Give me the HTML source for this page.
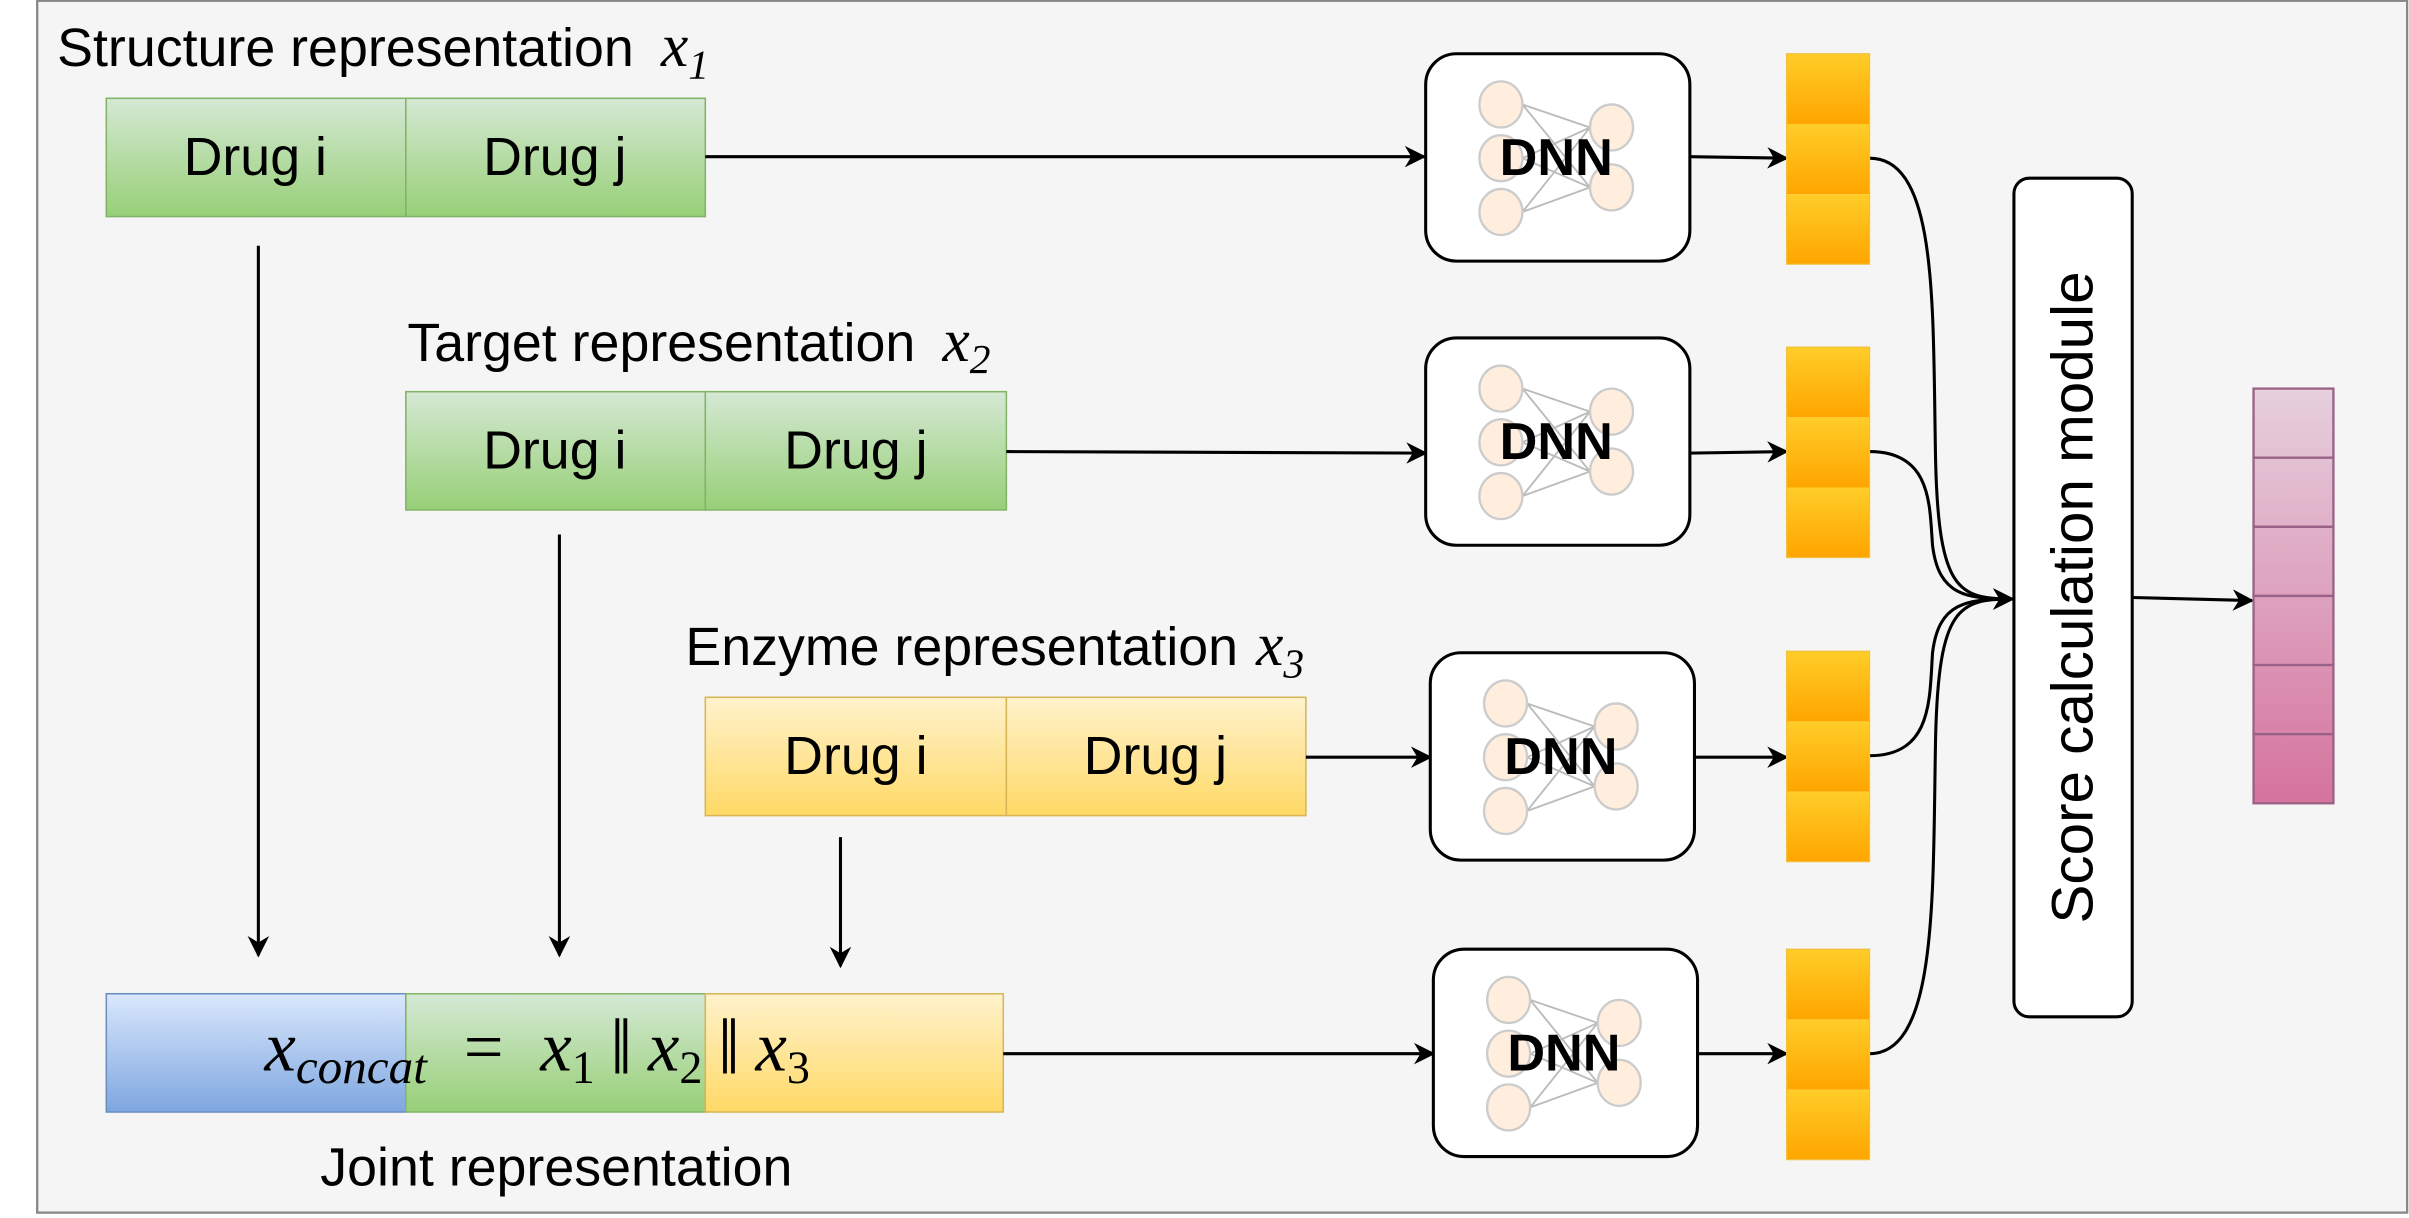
<!DOCTYPE html>
<html><head><meta charset="utf-8"><style>
html,body{margin:0;padding:0;background:#fff;}
svg{display:block;}
text{font-family:"Liberation Sans",sans-serif;}
.m{font-family:"Liberation Serif",serif;font-style:italic;}
</style></head><body>
<svg width="2409" height="1218" viewBox="0 0 1568 793" xmlns="http://www.w3.org/2000/svg">
<defs>
<linearGradient id="g" x1="0" y1="0" x2="0" y2="1"><stop offset="0" stop-color="#d5e8d4"/><stop offset="1" stop-color="#97d077"/></linearGradient>
<linearGradient id="y" x1="0" y1="0" x2="0" y2="1"><stop offset="0" stop-color="#fff2cc"/><stop offset="1" stop-color="#ffd966"/></linearGradient>
<linearGradient id="b" x1="0" y1="0" x2="0" y2="1"><stop offset="0" stop-color="#dae8fc"/><stop offset="1" stop-color="#7ea6e0"/></linearGradient>
<linearGradient id="o" x1="0" y1="0" x2="0" y2="1"><stop offset="0" stop-color="#ffcd28"/><stop offset="1" stop-color="#ffa500"/></linearGradient>
<linearGradient id="p" gradientUnits="userSpaceOnUse" x1="0" y1="253" x2="0" y2="523"><stop offset="0" stop-color="#e6d0de"/><stop offset="1" stop-color="#d5739d"/></linearGradient>
<marker id="a" viewBox="0 0 10 10" refX="9" refY="5" markerWidth="14" markerHeight="14" markerUnits="userSpaceOnUse" orient="auto">
<path d="M0,0 L10,5 L0,10 L3,5 Z" fill="#000"/></marker>
<g id="dnn">
<rect x="0" y="0" width="172" height="135" rx="20" fill="#fff" stroke="#000" stroke-width="2"/>
<g stroke="#bbb" stroke-width="1.2" fill="none">
<path d="M63,33 L107,48 M63,33 L107,87 M63,103 L107,48 M63,103 L107,87 M63,68 L107,48 M63,68 L107,87"/></g>
<g fill="#ffeedd" stroke="#ccc" stroke-width="1.5">
<ellipse cx="49" cy="33" rx="14" ry="15"/><ellipse cx="49" cy="68" rx="14" ry="15"/><ellipse cx="49" cy="103" rx="14" ry="15"/>
<ellipse cx="121" cy="48" rx="14" ry="15"/><ellipse cx="121" cy="87" rx="14" ry="15"/></g>
<text x="85" y="79" text-anchor="middle" font-size="34" font-weight="bold">DNN</text>
</g>
<g id="col">
<rect x="0" y="0" width="54" height="45.7" fill="url(#o)"/>
<rect x="0" y="45.7" width="54" height="45.7" fill="url(#o)"/>
<rect x="0" y="91.4" width="54" height="45.7" fill="url(#o)"/>
<rect x="0" y="0" width="54" height="137" fill="none" stroke="#f0c040" stroke-width="0.8"/>
</g>
</defs>
<rect x="24" y="0.5" width="1543" height="789" fill="#f5f5f5" stroke="#888" stroke-width="1.5"/>

<text x="37" y="43" font-size="35">Structure representation <tspan class="m" font-size="40" dx="8">x</tspan><tspan class="m" font-size="27" dy="8" font-style="normal">1</tspan></text>
<rect x="69" y="64" width="195" height="77" fill="url(#g)" stroke="#82b366"/>
<rect x="264" y="64" width="195" height="77" fill="url(#g)" stroke="#82b366"/>
<text x="166" y="114" font-size="35" text-anchor="middle">Drug i</text>
<text x="361" y="114" font-size="35" text-anchor="middle">Drug j</text>

<text x="265" y="235" font-size="35">Target representation <tspan class="m" font-size="40" dx="8">x</tspan><tspan class="m" font-size="27" dy="8" font-style="normal">2</tspan></text>
<rect x="264" y="255" width="195" height="77" fill="url(#g)" stroke="#82b366"/>
<rect x="459" y="255" width="196" height="77" fill="url(#g)" stroke="#82b366"/>
<text x="361" y="305" font-size="35" text-anchor="middle">Drug i</text>
<text x="557" y="305" font-size="35" text-anchor="middle">Drug j</text>

<text x="446" y="433" font-size="35">Enzyme representation <tspan class="m" font-size="40" dx="2">x</tspan><tspan class="m" font-size="27" dy="8" font-style="normal">3</tspan></text>
<rect x="459" y="454" width="196" height="77" fill="url(#y)" stroke="#d6b656"/>
<rect x="655" y="454" width="195" height="77" fill="url(#y)" stroke="#d6b656"/>
<text x="557" y="504" font-size="35" text-anchor="middle">Drug i</text>
<text x="752" y="504" font-size="35" text-anchor="middle">Drug j</text>

<rect x="69" y="647" width="195" height="77" fill="url(#b)" stroke="#6c8ebf"/>
<rect x="264" y="647" width="195" height="77" fill="url(#g)" stroke="#82b366"/>
<rect x="459" y="647" width="194" height="77" fill="url(#y)" stroke="#d6b656"/>
<text x="172" y="697" font-size="46" class="m">x<tspan font-size="32" dy="8">concat</tspan><tspan font-style="normal" dy="-8" dx="24">=</tspan><tspan dx="24">x</tspan><tspan font-size="30" dy="8" font-style="normal">1</tspan><tspan font-style="normal" font-size="52" dy="-6" dx="10">‖</tspan><tspan dx="10" dy="-2">x</tspan><tspan font-size="30" dy="8" font-style="normal">2</tspan><tspan font-style="normal" font-size="52" dy="-6" dx="10">‖</tspan><tspan dx="10" dy="-2">x</tspan><tspan font-size="30" dy="8" font-style="normal">3</tspan></text>
<text x="362" y="772" font-size="35" text-anchor="middle">Joint representation</text>

<g stroke="#000" stroke-width="2" fill="none" marker-end="url(#a)">
<path d="M459,102 L927,102"/>
<path d="M655,294 L928,295"/>
<path d="M850,493 L931,493"/>
<path d="M653,686 L933,686"/>
<path d="M168,160 L168,622"/>
<path d="M364,348 L364,622"/>
<path d="M547,545 L547,629"/>
<path d="M1100,102 L1163,103"/>
<path d="M1100,295 L1163,294"/>
<path d="M1103,493 L1163,493"/>
<path d="M1105,686 L1163,686"/>
<path d="M1217,103 C1262,103 1258,200 1260,300 C1262,385 1275,390 1310,390"/>
<path d="M1217,294 C1258,294 1256,330 1258,355 C1262,388 1280,390 1310,390"/>
<path d="M1217,492 C1258,492 1256,455 1258,425 C1262,392 1280,390 1310,390"/>
<path d="M1217,686 C1262,686 1258,580 1260,480 C1262,395 1275,390 1310,390"/>
<path d="M1388,389 L1466,391"/>
</g>

<use href="#dnn" x="928" y="35"/>
<use href="#dnn" x="928" y="220"/>
<use href="#dnn" x="931" y="425"/>
<use href="#dnn" x="933" y="618"/>

<use href="#col" x="1163" y="35"/>
<use href="#col" x="1163" y="226"/>
<use href="#col" x="1163" y="424"/>
<use href="#col" x="1163" y="618"/>

<rect x="1311" y="116" width="77" height="546" rx="10" fill="#fff" stroke="#000" stroke-width="2"/>
<text transform="translate(1362,389) rotate(-90)" font-size="38" text-anchor="middle">Score calculation module</text>

<g stroke="#996185" stroke-width="1.5" fill="url(#p)">
<rect x="1467" y="253" width="52" height="45"/>
<rect x="1467" y="298" width="52" height="45"/>
<rect x="1467" y="343" width="52" height="45"/>
<rect x="1467" y="388" width="52" height="45"/>
<rect x="1467" y="433" width="52" height="45"/>
<rect x="1467" y="478" width="52" height="45"/>
</g>
</svg>
</body></html>
